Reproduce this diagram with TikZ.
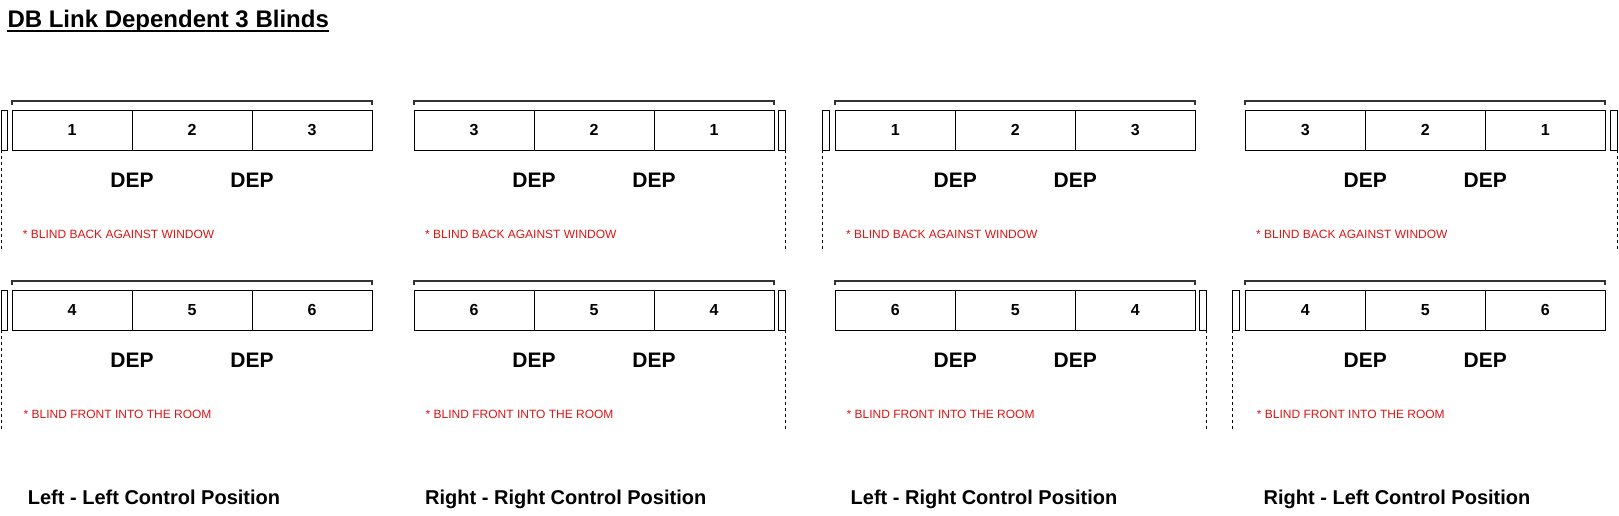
\documentclass[tikz,border=0pt]{standalone}
\usepackage{fontspec}
\setmainfont{Liberation Sans}
\definecolor{notered}{RGB}{220,20,20}
\definecolor{railgray}{RGB}{51,51,51}
\begin{document}
\begin{tikzpicture}[x=1pt, y=1pt, yscale=-1,
    cell/.style={line width=1pt},
    rail/.style={line width=2pt, draw=railgray},
    drop/.style={line width=1pt, dash pattern=on 3pt off 3pt},
    num/.style={font=\fontsize{16}{19}\selectfont\bfseries},
    dep/.style={font=\fontsize{21}{25}\selectfont\bfseries},
    note/.style={anchor=west, inner sep=0pt, text=notered, font=\fontsize{12}{14}\selectfont},
    caption/.style={anchor=base west, inner sep=0pt, font=\fontsize{20}{24}\selectfont\bfseries}]
    \useasboundingbox (0,0) rectangle (1619,515);

    \node [anchor=base west, inner sep=0pt, font=\fontsize{24}{28}\selectfont\bfseries] (title) at (7.3,27.7) {DB Link Dependent 3 Blinds};
    \coordinate (title-rule) at (0,31.3);
    \draw [line width=2pt] (title.base west |- title-rule) -- (title.base east |- title-rule);

    \draw [rail] (12,105) -- (12,101) -- (372,101) -- (372,105);
    \draw [cell] (12,110) rectangle (132,150) node [pos=.5, num] (p1u-a) {1};
    \draw [cell] (132,110) rectangle (252,150) node [pos=.5, num] (p1u-b) {2};
    \draw [cell] (252,110) rectangle (372,150) node [pos=.5, num] (p1u-c) {3};
    \draw [cell] (1,110) rectangle (7,150);
    \draw [drop] (1,150) -- (1,250);
    \node [dep] (p1u-dep1) at (132,180) {DEP};
    \node [dep] (p1u-dep2) at (252,180) {DEP};
    \node [note] (p1u-note) at (22.7,234.5) {* BLIND BACK AGAINST WINDOW};

    \draw [rail] (12,285) -- (12,281) -- (372,281) -- (372,285);
    \draw [cell] (12,290) rectangle (132,330) node [pos=.5, num] (p1l-a) {4};
    \draw [cell] (132,290) rectangle (252,330) node [pos=.5, num] (p1l-b) {5};
    \draw [cell] (252,290) rectangle (372,330) node [pos=.5, num] (p1l-c) {6};
    \draw [cell] (1,290) rectangle (7,330);
    \draw [drop] (1,330) -- (1,430);
    \node [dep] (p1l-dep1) at (132,360) {DEP};
    \node [dep] (p1l-dep2) at (252,360) {DEP};
    \node [note] (p1l-note) at (23.5,414.5) {* BLIND FRONT INTO THE ROOM};

    \node [caption] (p1-caption) at (27.7,504) {Left - Left Control Position};

    \draw [rail] (414,105) -- (414,101) -- (774,101) -- (774,105);
    \draw [cell] (414,110) rectangle (534,150) node [pos=.5, num] (p2u-a) {3};
    \draw [cell] (534,110) rectangle (654,150) node [pos=.5, num] (p2u-b) {2};
    \draw [cell] (654,110) rectangle (774,150) node [pos=.5, num] (p2u-c) {1};
    \draw [cell] (778.3,110) rectangle (785,150);
    \draw [drop] (785,150) -- (785,250);
    \node [dep] (p2u-dep1) at (534,180) {DEP};
    \node [dep] (p2u-dep2) at (654,180) {DEP};
    \node [note] (p2u-note) at (425,234.5) {* BLIND BACK AGAINST WINDOW};

    \draw [rail] (414,285) -- (414,281) -- (774,281) -- (774,285);
    \draw [cell] (414,290) rectangle (534,330) node [pos=.5, num] (p2l-a) {6};
    \draw [cell] (534,290) rectangle (654,330) node [pos=.5, num] (p2l-b) {5};
    \draw [cell] (654,290) rectangle (774,330) node [pos=.5, num] (p2l-c) {4};
    \draw [cell] (778.3,290) rectangle (785,330);
    \draw [drop] (785,330) -- (785,430);
    \node [dep] (p2l-dep1) at (534,360) {DEP};
    \node [dep] (p2l-dep2) at (654,360) {DEP};
    \node [note] (p2l-note) at (425.5,414.5) {* BLIND FRONT INTO THE ROOM};

    \node [caption] (p2-caption) at (425,504) {Right - Right Control Position};

    \draw [rail] (835.3,105) -- (835.3,101) -- (1195.3,101) -- (1195.3,105);
    \draw [cell] (835.3,110) rectangle (955.3,150) node [pos=.5, num] (p3u-a) {1};
    \draw [cell] (955.3,110) rectangle (1075.3,150) node [pos=.5, num] (p3u-b) {2};
    \draw [cell] (1075.3,110) rectangle (1195.3,150) node [pos=.5, num] (p3u-c) {3};
    \draw [cell] (822.7,110) rectangle (829.3,150);
    \draw [drop] (822.7,150) -- (822.7,250);
    \node [dep] (p3u-dep1) at (955.3,180) {DEP};
    \node [dep] (p3u-dep2) at (1075.3,180) {DEP};
    \node [note] (p3u-note) at (846,234.5) {* BLIND BACK AGAINST WINDOW};

    \draw [rail] (835.3,285) -- (835.3,281) -- (1195.3,281) -- (1195.3,285);
    \draw [cell] (835.3,290) rectangle (955.3,330) node [pos=.5, num] (p3l-a) {6};
    \draw [cell] (955.3,290) rectangle (1075.3,330) node [pos=.5, num] (p3l-b) {5};
    \draw [cell] (1075.3,290) rectangle (1195.3,330) node [pos=.5, num] (p3l-c) {4};
    \draw [cell] (1199.3,290) rectangle (1206.3,330);
    \draw [drop] (1206.3,330) -- (1206.3,430);
    \node [dep] (p3l-dep1) at (955.3,360) {DEP};
    \node [dep] (p3l-dep2) at (1075.3,360) {DEP};
    \node [note] (p3l-note) at (846.5,414.5) {* BLIND FRONT INTO THE ROOM};

    \node [caption] (p3-caption) at (850.5,504) {Left - Right Control Position};

    \draw [rail] (1245.3,105) -- (1245.3,101) -- (1605.3,101) -- (1605.3,105);
    \draw [cell] (1245.3,110) rectangle (1365.3,150) node [pos=.5, num] (p4u-a) {3};
    \draw [cell] (1365.3,110) rectangle (1485.3,150) node [pos=.5, num] (p4u-b) {2};
    \draw [cell] (1485.3,110) rectangle (1605.3,150) node [pos=.5, num] (p4u-c) {1};
    \draw [cell] (1610.7,110) rectangle (1617.5,150);
    \draw [drop] (1617.5,150) -- (1617.5,250);
    \node [dep] (p4u-dep1) at (1365.3,180) {DEP};
    \node [dep] (p4u-dep2) at (1485.3,180) {DEP};
    \node [note] (p4u-note) at (1256,234.5) {* BLIND BACK AGAINST WINDOW};

    \draw [rail] (1245.3,285) -- (1245.3,281) -- (1605.3,281) -- (1605.3,285);
    \draw [cell] (1245.3,290) rectangle (1365.3,330) node [pos=.5, num] (p4l-a) {4};
    \draw [cell] (1365.3,290) rectangle (1485.3,330) node [pos=.5, num] (p4l-b) {5};
    \draw [cell] (1485.3,290) rectangle (1605.3,330) node [pos=.5, num] (p4l-c) {6};
    \draw [cell] (1232.3,290) rectangle (1239.3,330);
    \draw [drop] (1232.3,330) -- (1232.3,430);
    \node [dep] (p4l-dep1) at (1365.3,360) {DEP};
    \node [dep] (p4l-dep2) at (1485.3,360) {DEP};
    \node [note] (p4l-note) at (1256.7,414.5) {* BLIND FRONT INTO THE ROOM};

    \node [caption] (p4-caption) at (1263.5,504) {Right - Left Control Position};
\end{tikzpicture}
\end{document}
